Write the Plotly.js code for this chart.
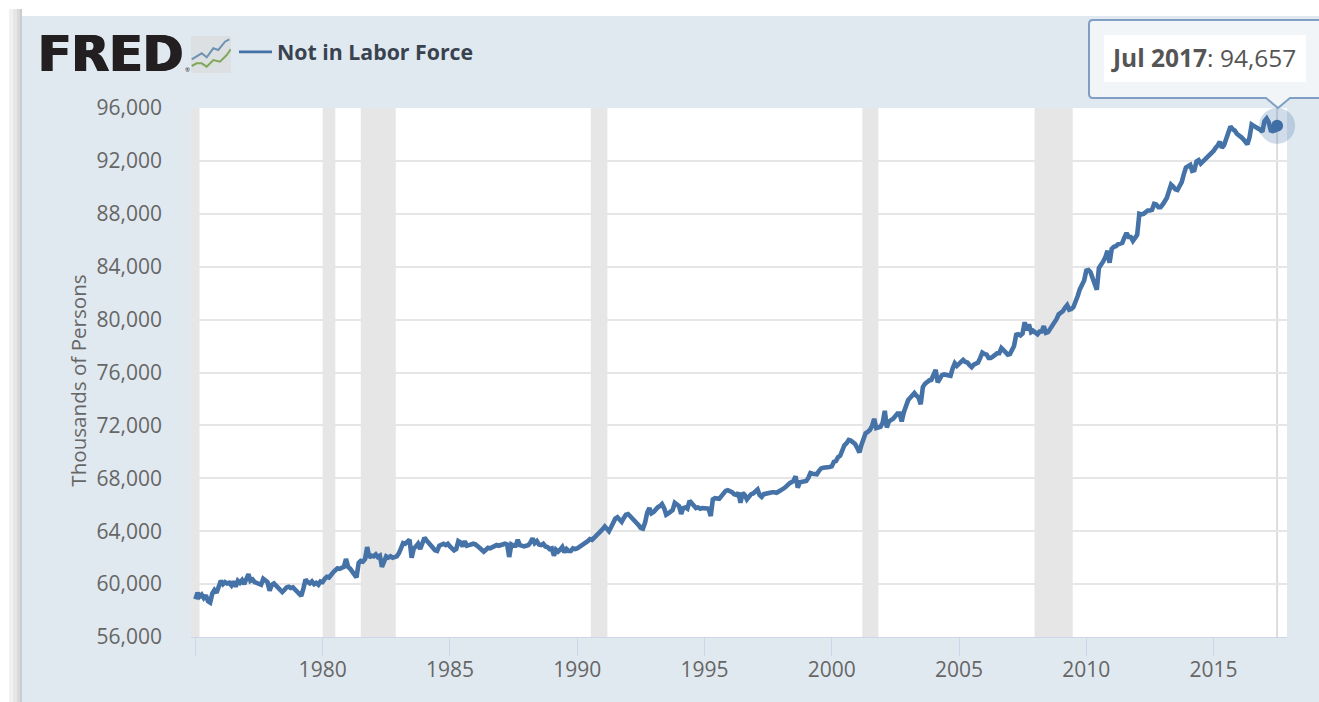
<!DOCTYPE html>
<html>
<head>
<meta charset="utf-8">
<script src="https://cdn.plot.ly/plotly-3.0.1.min.js"></script>
<style>html,body{margin:0;padding:0;background:#fff;overflow:hidden}</style>
</head>
<body>
<div id="chart" style="width:1319px;height:702px"></div>
<script>
const seriesName = "Not in Labor Force";
const y1975 = [58850,59350,59050,59200,58950,59150,58700,58600,59300,59550,59350,59700];
const y1976 = [60250,60000,60150,60050,60100,59900,60200,59800,60250,60100,60300,60000];
const y1977 = [60300,60750,60250,60350,60150,60100,60050,59950,60400,60250,60150,59500];
const y1978 = [59950,60050,59900,59800,59650,59400,59550,59750,59800,59700,59750,59600];
const y1979 = [59500,59350,59100,59700,60350,60150,60050,60200,60000,60100,59950,60200];
const y1980 = [60150,60400,60550,60500,60750,60900,61050,61200,61150,61250,61300,61900];
const y1981 = [61300,61150,60950,60800,60500,61600,61750,61700,61900,62800,62000,62150];
const y1982 = [62100,62250,62050,62150,61300,61700,62100,62000,62100,62000,62050,62100];
const y1983 = [62350,62800,63100,63050,63250,63350,62000,62700,62850,63050,62650,63000];
const y1984 = [63500,63300,63150,62950,62750,62550,62500,62900,63000,63050,62950,63050];
const y1985 = [62850,62700,62550,62650,63250,63150,62850,63250,62900,62950,63000,63050];
const y1986 = [63000,62900,62750,62600,62450,62600,62750,62700,62800,62850,62950,62900];
const y1987 = [62950,63000,63050,63000,62050,63000,62900,62900,63350,62950,62900,62850];
const y1988 = [62900,62950,63150,63450,63100,63250,63000,62950,63050,62850,62800,62650];
const y1989 = [62700,62150,62600,62450,62600,62800,62400,62650,62500,62500,62700,62650];
const y1990 = [62700,62800,62900,63000,63050,63250,63400,63350,63500,63650,63750,63950];
const y1991 = [64150,64350,64200,64000,64300,64600,64950,65050,64900,64700,65000,65250];
const y1992 = [65300,65150,64950,64850,64650,64450,64250,64200,64650,65400,65750,65350];
const y1993 = [65450,65700,65800,65900,66050,65750,65250,65350,65500,65600,66150,66050];
const y1994 = [65900,65300,65750,65800,65700,66300,66100,65950,65750,65800,65700,65750];
const y1995 = [65750,65700,65700,65150,66400,66500,66500,66450,66650,66850,67050,67100];
const y1996 = [67050,66950,66800,66750,66900,66150,66900,66750,66400,66650,66800,66850];
const y1997 = [66950,67150,66750,66600,66800,66850,66900,66900,66950,66950,66900,67000];
const y1998 = [67150,67200,67300,67500,67600,67700,67800,68150,67300,67700,67750,67800];
const y1999 = [67800,68050,68400,68350,68350,68300,68550,68750,68800,68800,68800,68850];
const y2000 = [68900,69250,69300,69600,69700,70100,70500,70650,70900,70850,70750,70600];
const y2001 = [70300,69950,70500,71000,71400,71500,71650,71950,72500,71800,71900,71900];
const y2002 = [72200,73100,71850,72300,72400,72500,72700,72900,72900,72300,73000,73500];
const y2003 = [73900,74100,74250,74450,74250,74100,73600,74900,75150,75300,75400,75450];
const y2004 = [75750,76200,75250,75600,75800,75850,75800,75750,75750,76300,76700,76500];
const y2005 = [76650,76900,76950,76800,76750,76550,76400,76600,76650,76750,77100,77500];
const y2006 = [77400,77350,77100,77100,77200,77350,77450,77450,77850,77700,77500,77350];
const y2007 = [77400,77700,78000,78850,78900,78800,78950,79800,79200,79650,79050,79150];
const y2008 = [79000,78900,79100,79100,79500,79000,79050,79300,79450,79700,80050,80400];
const y2009 = [80500,80650,80900,81100,80750,80800,80950,81300,81800,82300,82700,82950];
const y2010 = [83700,83750,83600,83150,82950,82250,83900,84100,84400,84700,85200,84300];
const y2011 = [85350,85500,85550,85700,85750,85800,86200,86550,86250,86250,85950,86200];
const y2012 = [86400,88000,87950,88000,88150,88250,88250,88300,88750,88700,88500,88500];
const y2013 = [88700,88900,89200,89700,90200,90050,89850,89800,90050,90400,91000,91500];
const y2014 = [91600,91700,91250,91300,91950,92050,91800,91950,92050,92250,92350,92500];
const y2015 = [92750,93000,93150,93450,93000,93200,93600,94100,94600,94400,94300,94050];
const y2016 = [93950,93800,93650,93400,93250,93800,94750,94650,94500,94450,94350,94200];
const y2017 = [95000,95200,94950,94300,94250,94300,94657];
const years = [y1975,y1976,y1977,y1978,y1979,y1980,y1981,y1982,y1983,y1984,y1985,y1986,y1987,y1988,y1989,y1990,y1991,y1992,y1993,y1994,y1995,y1996,y1997,y1998,y1999,y2000,y2001,y2002,y2003,y2004,y2005,y2006,y2007,y2008,y2009,y2010,y2011,y2012,y2013,y2014,y2015,y2016,y2017];

const recessionStart = ["1973-11-01","1980-01-01","1981-07-01","1990-07-15","2001-03-15","2007-12-20"];
const recessionEnd   = ["1975-03-01","1980-07-01","1982-11-15","1991-03-10","2001-11-01","2009-06-20"];
const xTickVals = ["1975-01-01","1980-01-01","1985-01-01","1990-01-01","1995-01-01","2000-01-01","2005-01-01","2010-01-01","2015-01-01"];
const xTickText = ["","1980","1985","1990","1995","2000","2005","2010","2015"];
const iconBlueX = [0.7,5.7,10.7,15.7,22.3,27.3,34,38.3];
const iconBlueY = [23.3,20.7,17.3,21.3,12.3,14,5.7,3.3];
const iconGreenX = [0.7,5.7,10.7,15.7,22.3,29,35.7,39.7];
const iconGreenY = [30,27.3,27.3,30.7,24,25.7,19,13.3];

const W = 1319, H = 702;
const px = v => v / W;
const py = v => 1 - v / H;
const dates = [], values = [];
years.forEach((arr, i) => arr.forEach((v, m) => {
  dates.push((1975 + i) + "-" + String(m + 1).padStart(2, "0") + "-01");
  values.push(v);
}));
const lastDate = dates[dates.length - 1], lastValue = values[values.length - 1];

function pageRect(x0, y0, x1, y1, fill, layer) {
  return {type:"rect", xref:"paper", yref:"paper", x0:px(x0), x1:px(x1), y0:py(y0), y1:py(y1),
          fillcolor:fill, line:{width:0}, layer:layer || "below"};
}
const P = (x, y) => px(x) + "," + py(y);
const calloutPath = "M" + P(1093,20) + " L" + P(1325,20) + " L" + P(1325,98) + " L" + P(1290,98) + " L" + P(1278,108) +
  " L" + P(1266,98) + " L" + P(1093,98) + " Q" + P(1089,98) + " " + P(1089,94) + " L" + P(1089,24) + " Q" + P(1089,20) + " " + P(1093,20) + " Z";

const shapes = [
  pageRect(0, 0, W, 16, "#ffffff"),
  pageRect(0, 0, 9, H, "#ffffff"),
  pageRect(9, 9, 13, H, "#f1f1f1"),
  pageRect(13, 9, 17, H, "#e6e6e6"),
  pageRect(17, 9, 20, H, "#d9d9d9"),
  pageRect(20, 9, 22, H, "#c9cdd1"),
  pageRect(191, 36, 231, 73, "#dde0e3")
];
recessionStart.forEach((s, i) => shapes.push({type:"rect", xref:"x", yref:"paper", x0:s, x1:recessionEnd[i],
  y0:py(637), y1:py(108), fillcolor:"#e6e6e6", line:{width:0}, layer:"below"}));
shapes.push({type:"line", xref:"x", yref:"paper", x0:lastDate, x1:lastDate, y0:py(637), y1:py(108),
  line:{color:"#dcdcdc", width:2}, layer:"below"});
shapes.push({type:"path", xref:"paper", yref:"paper", path:calloutPath, fillcolor:"rgba(243,245,248,0.97)",
  line:{color:"#7f9fc4", width:2}, layer:"above"});
shapes.push(pageRect(1104, 35, 1306, 82, "#ffffff", "above"));

const traces = [
  {x:dates, y:values, type:"scatter", mode:"lines", name:seriesName, showlegend:false,
   line:{color:"#4572a7", width:4.6}, xaxis:"x", yaxis:"y", hoverinfo:"x+y"},
  {x:[null], y:[null], type:"scatter", mode:"lines", name:"<b>" + seriesName + "</b>",
   line:{color:"#4572a7", width:2.6}, hoverinfo:"skip"},
  {x:[lastDate], y:[lastValue], type:"scatter", mode:"markers", showlegend:false, cliponaxis:false,
   marker:{color:"rgba(69,114,167,0.25)", size:36}, hoverinfo:"skip"},
  {x:[lastDate], y:[lastValue], type:"scatter", mode:"markers", showlegend:false, cliponaxis:false,
   marker:{color:"#3f6da5", size:12}, hoverinfo:"skip"},
  {x:iconBlueX, y:iconBlueY, type:"scatter", mode:"lines", showlegend:false, xaxis:"x2", yaxis:"y2",
   line:{color:"#6f93b3", width:2}, hoverinfo:"skip"},
  {x:iconGreenX, y:iconGreenY, type:"scatter", mode:"lines", showlegend:false, xaxis:"x2", yaxis:"y2",
   line:{color:"#7fa85a", width:2}, hoverinfo:"skip"}
];

const layout = {
  width:W, height:H, autosize:false,
  margin:{l:0, r:0, t:0, b:0, pad:0},
  paper_bgcolor:"#e1e9f0", plot_bgcolor:"#ffffff",
  font:{family:"'Open Sans', sans-serif", size:21, color:"#666666"},
  hovermode:false,
  showlegend:true,
  legend:{x:px(234), y:py(52), xanchor:"left", yanchor:"middle", bgcolor:"rgba(0,0,0,0)", borderwidth:0,
          font:{size:21.3, color:"#39424f"}, itemwidth:33},
  xaxis:{type:"date", domain:[px(191), px(1287)], range:["1974-10-30","2017-11-20"],
         tickmode:"array", tickvals:xTickVals, ticktext:xTickText,
         ticks:"outside", ticklen:18, tickwidth:1, tickcolor:"#ccd6eb",
         showline:true, linecolor:"#ccd6eb", linewidth:1, showgrid:false, zeroline:false,
         tickfont:{size:21, color:"#666666"}, anchor:"y", ticklabelstandoff:-4},
  yaxis:{domain:[py(637), py(108)], range:[56000,96000], dtick:4000, tick0:56000, tickformat:",",
         gridcolor:"#e6e6e6", gridwidth:2, zeroline:false, showline:false, anchor:"x",
         tickfont:{size:21, color:"#666666"}, ticks:"", ticklabelstandoff:28,
         title:{text:"Thousands of Persons&nbsp;&nbsp;&nbsp;", font:{size:20.6, color:"#666666"}, standoff:4}},
  xaxis2:{domain:[px(191), px(231)], range:[0,40], visible:false, anchor:"y2", fixedrange:true},
  yaxis2:{domain:[py(73), py(36)], range:[37,0], visible:false, anchor:"x2", fixedrange:true},
  shapes:shapes,
  annotations:[
    {xref:"paper", yref:"paper", x:px(36), y:py(55), xanchor:"left", yanchor:"middle", showarrow:false,
     text:"<b>FRED</b>", font:{family:"'DejaVu Sans', sans-serif", size:49, color:"#231f20",
       shadow:"1px 0 0 #231f20, -1px 0 0 #231f20"}},
    {xref:"paper", yref:"paper", x:px(184), y:py(70), xanchor:"left", yanchor:"middle", showarrow:false, borderpad:0,
     text:"®", font:{size:6, color:"#231f20"}},
    {xref:"paper", yref:"paper", x:px(1203.5), y:py(58), xanchor:"center", yanchor:"middle", showarrow:false,
     text:"<b>Jul 2017</b>: 94,657", font:{size:24.5, color:"#555555"}}
  ]
};
Plotly.newPlot("chart", traces, layout, {displayModeBar:false, staticPlot:true});
</script>
</body>
</html>
